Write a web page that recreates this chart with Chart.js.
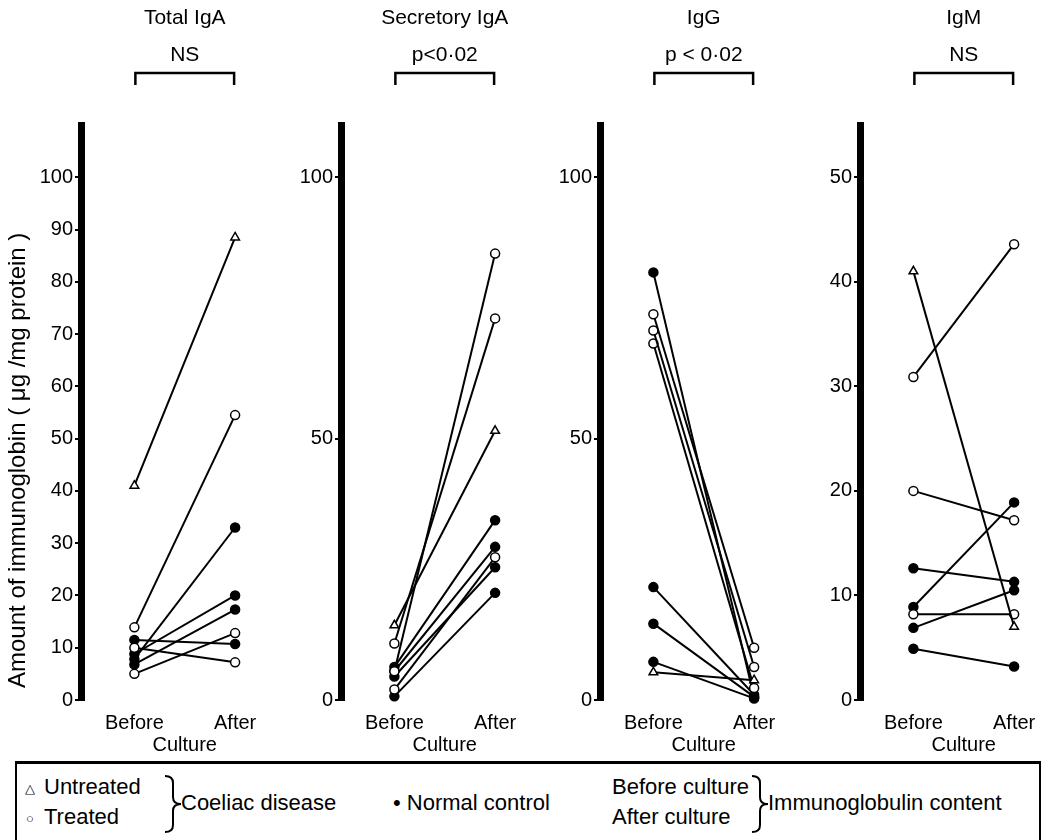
<!DOCTYPE html>
<html>
<head>
<meta charset="utf-8">
<title>Immunoglobulin content before and after culture</title>
<script src="https://cdn.jsdelivr.net/npm/chart.js"></script>
<style>
  body { margin: 0; width: 1045px; height: 840px; overflow: hidden; background: #fff;
         font-family: 'Liberation Sans', Arial, sans-serif; color: #000; }
  .panel { position: absolute; top: 0; }
  .legend { position: absolute; left: 15px; top: 761px; width: 1026px; height: 100px;
            border: 2px solid #000; border-top-width: 3px; box-sizing: border-box; }
  .legend span { position: absolute; font-size: 22px; line-height: 24px; white-space: nowrap; }
  .legend svg { position: absolute; }
</style>
</head>
<body>

<div class="panel" style="left:0px"><canvas id="c1" width="295" height="760"></canvas></div>
<div class="panel" style="left:260px"><canvas id="c2" width="295" height="760"></canvas></div>
<div class="panel" style="left:519px"><canvas id="c3" width="295" height="760"></canvas></div>
<div class="panel" style="left:779px"><canvas id="c4" width="295" height="760"></canvas></div>

<div class="legend">
  <span style="left:8px;top:13px;font-size:13px">&#9651;</span>
  <span style="left:27px;top:11px">Untreated</span>
  <span style="left:9px;top:43px;font-size:13px">&#9675;</span>
  <span style="left:27px;top:41px">Treated</span>
  <svg style="left:147px;top:10px" width="18" height="60">
    <path d="M1,2 Q9,2 9,9 L9,23 Q9,30 17,30 Q9,30 9,37 L9,51 Q9,58 1,58" fill="none" stroke="#000" stroke-width="2"/>
  </svg>
  <span style="left:164px;top:27px">Coeliac disease</span>
  <span style="left:376px;top:27px">&#8226; Normal control</span>
  <span style="left:595px;top:11px">Before culture</span>
  <span style="left:595px;top:41px">After culture</span>
  <svg style="left:734px;top:10px" width="18" height="60">
    <path d="M1,2 Q9,2 9,9 L9,23 Q9,30 17,30 Q9,30 9,37 L9,51 Q9,58 1,58" fill="none" stroke="#000" stroke-width="2"/>
  </svg>
  <span style="left:751px;top:27px">Immunoglobulin content</span>
</div>

<script>
// x categories
const stages = ['Before', 'After'];

// U = untreated coeliac, T = treated coeliac, N = normal control
const totalIgAGroup  = ['U', 'T', 'T', 'T', 'N', 'N', 'N', 'N'];
const totalIgABefore = [41, 13.9, 10, 5, 11.5, 8.8, 7.8, 6.8];
const totalIgAAfter  = [88.5, 54.5, 7.2, 12.8, 10.7, 20, 33, 17.3];

const secIgAGroup  = ['U', 'T', 'T', 'T', 'N', 'N', 'N', 'N'];
const secIgABefore = [14.3, 10.8, 5.5, 2.0, 6.3, 5.5, 4.5, 0.7];
const secIgAAfter  = [51.5, 73, 85.4, 27.3, 34.4, 29.3, 25.4, 20.5];

const igGGroup  = ['U', 'T', 'T', 'T', 'N', 'N', 'N', 'N'];
const igGBefore = [5.3, 73.8, 70.7, 68.2, 81.8, 21.6, 14.6, 7.3];
const igGAfter  = [3.8, 10.0, 6.3, 2.3, 0.5, 1.0, 0.6, 0.3];

const igMGroup  = ['U', 'T', 'T', 'T', 'N', 'N', 'N', 'N'];
const igMBefore = [41, 30.9, 20, 8.2, 12.6, 8.9, 6.9, 4.9];
const igMAfter  = [7.0, 43.6, 17.2, 8.2, 11.3, 18.9, 10.5, 3.2];

const FONT = "'Liberation Sans', Arial, sans-serif";

const headerPlugin = {
  id: 'header',
  afterDraw(chart, args, opts) {
    const ctx = chart.ctx, x = chart.scales.x;
    const x0 = x.getPixelForValue(0), x1 = x.getPixelForValue(1), xm = (x0 + x1) / 2;
    ctx.save();
    ctx.fillStyle = '#000';
    ctx.font = '21px ' + FONT;
    ctx.textAlign = 'center';
    ctx.textBaseline = 'middle';
    ctx.fillText(opts.title, xm, 18);
    ctx.fillText(opts.stat, xm, 55);
    ctx.lineWidth = 2.5;
    ctx.beginPath();
    ctx.moveTo(x0 + 1, 85);
    ctx.lineTo(x0 + 1, 73);
    ctx.lineTo(x1 - 1, 73);
    ctx.lineTo(x1 - 1, 85);
    ctx.stroke();
    ctx.restore();
  }
};

function makeDatasets(group, before, after) {
  return group.map((g, i) => ({
    label: g,
    data: [{ x: 0, y: before[i] }, { x: 1, y: after[i] }],
    borderColor: '#000',
    borderWidth: 2,
    pointStyle: g === 'U' ? 'triangle' : 'circle',
    pointRadius: g === 'U' ? 5 : 4.5,
    pointBackgroundColor: g === 'N' ? '#000' : '#fff',
    pointBorderColor: '#000',
    pointBorderWidth: 1.5,
    clip: false
  }));
}

function makePanel(id, title, stat, group, before, after, yMax, yTop, step, yTitle) {
  new Chart(document.getElementById(id), {
    type: 'line',
    data: { datasets: makeDatasets(group, before, after) },
    plugins: [headerPlugin],
    options: {
      responsive: false,
      animation: false,
      layout: { padding: { top: 125, left: 0, right: 0, bottom: 0 } },
      scales: {
        x: {
          type: 'linear',
          min: -0.53,
          max: 1.53,
          afterBuildTicks: s => { s.ticks = stages.map((_, i) => ({ value: i })); },
          afterFit: s => { s.height = 60; },
          ticks: { callback: v => stages[v], color: '#000', font: { family: FONT, size: 20 }, padding: 11, maxRotation: 0 },
          grid: { display: false, drawTicks: false },
          border: { display: false },
          title: { display: true, text: 'Culture', color: '#000', font: { family: FONT, size: 20 }, padding: { top: 0, bottom: 3 } }
        },
        y: {
          min: 0,
          max: yMax,
          afterBuildTicks: s => { s.ticks = s.ticks.filter(t => t.value <= yTop); },
          afterFit: s => { s.width = 81; },
          ticks: { stepSize: step, color: '#000', font: { family: FONT, size: 20 }, padding: 2 },
          grid: { drawOnChartArea: false, drawTicks: true, tickLength: 6, color: '#000', lineWidth: 2 },
          border: { display: true, color: '#000', width: 7 },
          title: {
            display: !!yTitle, text: yTitle || '', align: 'start', color: '#000',
            font: { family: FONT, size: 24 }, padding: { top: 4, bottom: 0 }
          }
        }
      },
      plugins: {
        legend: { display: false },
        tooltip: { enabled: false },
        header: { title: title, stat: stat }
      }
    }
  });
}

makePanel('c1', 'Total IgA', 'NS', totalIgAGroup, totalIgABefore, totalIgAAfter, 110, 100, 10,
  '\u2002Amount of immunoglobin ( \u03bcg /mg protein )');
makePanel('c2', 'Secretory IgA', 'p<0\u00b702', secIgAGroup, secIgABefore, secIgAAfter, 110, 100, 50);
makePanel('c3', 'IgG', 'p < 0\u00b702', igGGroup, igGBefore, igGAfter, 110, 100, 50);
makePanel('c4', 'IgM', 'NS', igMGroup, igMBefore, igMAfter, 55, 50, 10);
</script>
</body>
</html>
